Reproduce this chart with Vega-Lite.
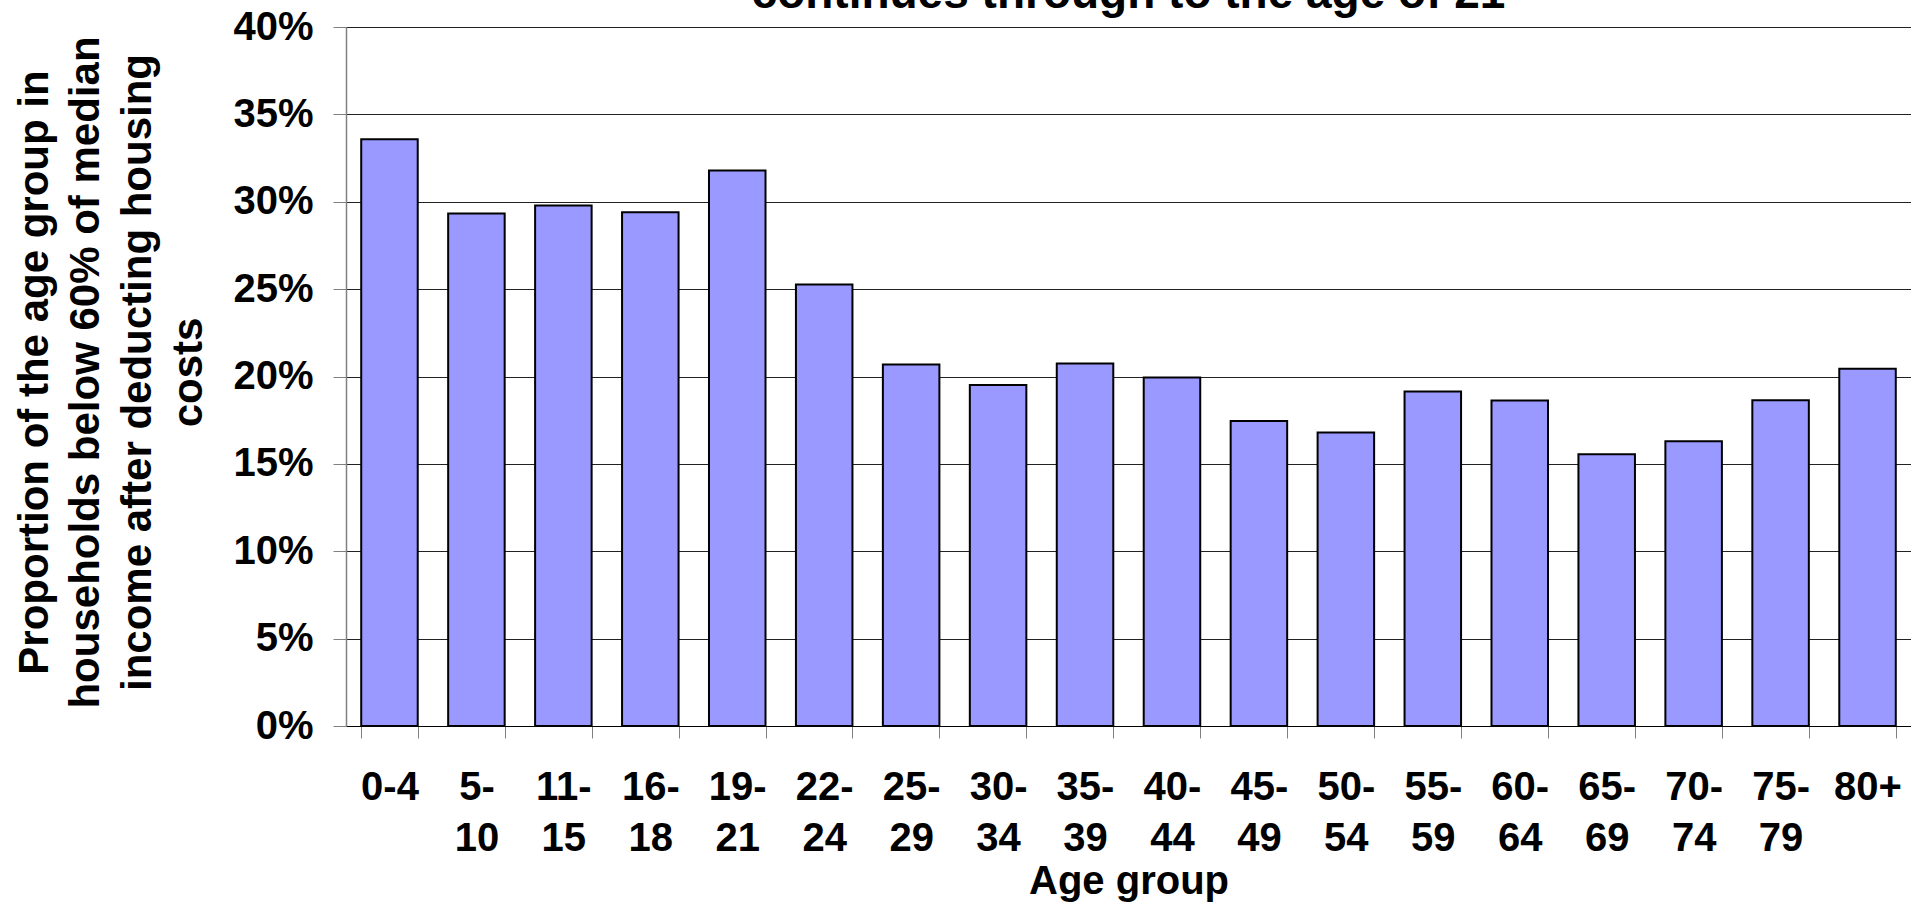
{
  "$schema": "https://vega.github.io/schema/vega-lite/v6.json",
  "autosize": {"type": "none"},
  "padding": {"left": 346, "top": 27, "right": 0, "bottom": 176},
  "width": 1565,
  "height": 699,
  "background": "white",
  "title": {
    "text": "continues through to the age of 21",
    "font": "Liberation Sans",
    "fontSize": 46,
    "fontWeight": "bold",
    "color": "#000000",
    "anchor": "middle",
    "frame": "group",
    "baseline": "alphabetic",
    "offset": 0,
    "dy": 47
  },
  "data": {
    "values": [
      {"age": "0-4", "share": 0.3357},
      {"age": "5-10", "share": 0.2933},
      {"age": "11-15", "share": 0.2979},
      {"age": "16-18", "share": 0.2940},
      {"age": "19-21", "share": 0.3179},
      {"age": "22-24", "share": 0.2527},
      {"age": "25-29", "share": 0.2069},
      {"age": "30-34", "share": 0.1952},
      {"age": "35-39", "share": 0.2074},
      {"age": "40-44", "share": 0.1994},
      {"age": "45-49", "share": 0.1746},
      {"age": "50-54", "share": 0.1679},
      {"age": "55-59", "share": 0.1914},
      {"age": "60-64", "share": 0.1862},
      {"age": "65-69", "share": 0.1555},
      {"age": "70-74", "share": 0.1629},
      {"age": "75-79", "share": 0.1864},
      {"age": "80+", "share": 0.2044}
    ]
  },
  "mark": {"type": "bar", "fill": "#9999FF", "stroke": "#000000", "strokeWidth": 2},
  "encoding": {
    "x": {
      "field": "age",
      "type": "nominal",
      "sort": null,
      "scale": {"paddingInner": 0.35, "paddingOuter": 0.175},
      "axis": {
        "title": "Age group",
        "titleFont": "Liberation Sans",
        "titleFontSize": 40,
        "titleFontWeight": "bold",
        "titleColor": "#000000",
        "titleBaseline": "alphabetic",
        "titleY": 167,
        "labelFont": "Liberation Sans",
        "labelFontSize": 40,
        "labelFontWeight": "bold",
        "labelColor": "#000000",
        "labelAngle": 0,
        "labelAlign": "center",
        "labelBaseline": "top",
        "labelPadding": 29,
        "labelLineHeight": 51,
        "labelOverlap": false,
        "labelFlush": false,
        "labelExpr": "!isString(datum.value) ? '' : (datum.value == '0-4' || datum.value == '80+' ? datum.value : [split(datum.value, '-')[0] + '-', split(datum.value, '-')[1]])",
        "tickBand": "extent",
        "tickSize": 12,
        "tickColor": "#808080",
        "tickWidth": 1,
        "domainColor": "#000000",
        "domainWidth": 1,
        "grid": false
      }
    },
    "y": {
      "field": "share",
      "type": "quantitative",
      "scale": {"domain": [0, 0.4], "nice": false},
      "axis": {
        "title": ["Proportion of the age group in", "households below 60% of median", "income after deducting housing", "costs"],
        "titleFont": "Liberation Sans",
        "titleFontSize": 42,
        "titleFontWeight": "bold",
        "titleColor": "#000000",
        "titleAngle": -90,
        "titleAlign": "center",
        "titleBaseline": "alphabetic",
        "titleLineHeight": 51.5,
        "titleX": -299,
        "titleY": 345,
        "values": [0, 0.05, 0.1, 0.15, 0.2, 0.25, 0.3, 0.35, 0.4],
        "format": ".0%",
        "labelFont": "Liberation Sans",
        "labelFontSize": 40,
        "labelFontWeight": "bold",
        "labelColor": "#000000",
        "labelPadding": 20,
        "labelBaseline": "middle",
        "tickSize": 13,
        "tickColor": "#808080",
        "domainColor": "#808080",
        "domainWidth": 1.5,
        "grid": true,
        "gridColor": "#222222",
        "gridWidth": 1
      }
    }
  },
  "config": {
    "view": {"stroke": null}
  }
}
